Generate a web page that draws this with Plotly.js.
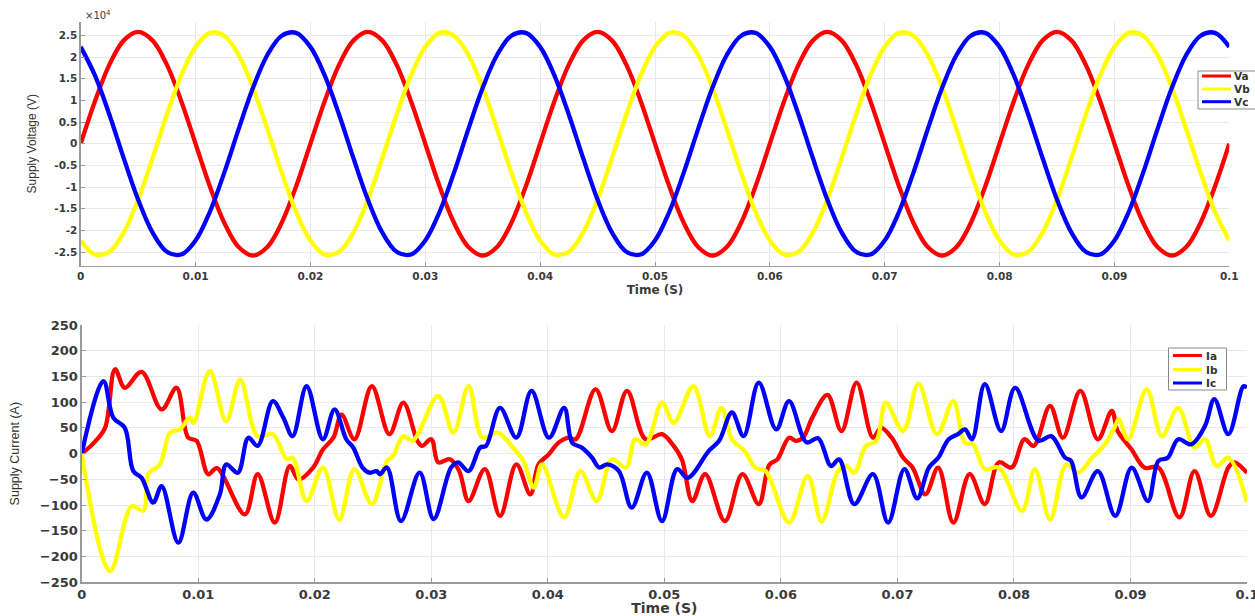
<!DOCTYPE html>
<html>
<head>
<meta charset="utf-8">
<script src="https://cdn.plot.ly/plotly-3.0.1.min.js"></script>
<style>html,body{margin:0;padding:0;background:#fff}#chart{width:1255px;height:616px}</style>
</head>
<body>
<div id="chart"></div>
<script>
// ---------- Supply voltage (top panel), sampled every 1.25 ms ----------
const tV = [0,0.00125,0.0025,0.00375,0.005,0.00625,0.0075,0.00875,
0.01,0.01125,0.0125,0.01375,0.015,0.01625,0.0175,0.01875,
0.02,0.02125,0.0225,0.02375,0.025,0.02625,0.0275,0.02875,
0.03,0.03125,0.0325,0.03375,0.035,0.03625,0.0375,0.03875,
0.04,0.04125,0.0425,0.04375,0.045,0.04625,0.0475,0.04875,
0.05,0.05125,0.0525,0.05375,0.055,0.05625,0.0575,0.05875,
0.06,0.06125,0.0625,0.06375,0.065,0.06625,0.0675,0.06875,
0.07,0.07125,0.0725,0.07375,0.075,0.07625,0.0775,0.07875,
0.08,0.08125,0.0825,0.08375,0.085,0.08625,0.0875,0.08875,
0.09,0.09125,0.0925,0.09375,0.095,0.09625,0.0975,0.09875,0.1];
const Va = [0,9870,18240,23840,25800,23840,18240,9870,0,-9870,-18240,-23840,-25800,-23840,-18240,-9870,
0,9870,18240,23840,25800,23840,18240,9870,0,-9870,-18240,-23840,-25800,-23840,-18240,-9870,
0,9870,18240,23840,25800,23840,18240,9870,0,-9870,-18240,-23840,-25800,-23840,-18240,-9870,
0,9870,18240,23840,25800,23840,18240,9870,0,-9870,-18240,-23840,-25800,-23840,-18240,-9870,
0,9870,18240,23840,25800,23840,18240,9870,0,-9870,-18240,-23840,-25800,-23840,-18240,-9870,0];
const Vb = [-22340,-25580,-24920,-20470,-12900,-3370,6680,15700,22340,25580,24920,20470,12900,3370,-6680,-15700,
-22340,-25580,-24920,-20470,-12900,-3370,6680,15700,22340,25580,24920,20470,12900,3370,-6680,-15700,
-22340,-25580,-24920,-20470,-12900,-3370,6680,15700,22340,25580,24920,20470,12900,3370,-6680,-15700,
-22340,-25580,-24920,-20470,-12900,-3370,6680,15700,22340,25580,24920,20470,12900,3370,-6680,-15700,
-22340,-25580,-24920,-20470,-12900,-3370,6680,15700,22340,25580,24920,20470,12900,3370,-6680,-15700,-22340];
const Vc = [22340,15700,6680,-3370,-12900,-20470,-24920,-25580,-22340,-15700,-6680,3370,12900,20470,24920,25580,
22340,15700,6680,-3370,-12900,-20470,-24920,-25580,-22340,-15700,-6680,3370,12900,20470,24920,25580,
22340,15700,6680,-3370,-12900,-20470,-24920,-25580,-22340,-15700,-6680,3370,12900,20470,24920,25580,
22340,15700,6680,-3370,-12900,-20470,-24920,-25580,-22340,-15700,-6680,3370,12900,20470,24920,25580,
22340,15700,6680,-3370,-12900,-20470,-24920,-25580,-22340,-15700,-6680,3370,12900,20470,24920,25580,22340];

// ---------- Supply current (bottom panel), read at turning points ----------
const tIa = [0,0.001,0.002,0.00286,0.0037,0.00514,0.00686,0.00814,0.00914,0.00986,0.01086,0.0116,0.014,0.0151,0.01657,0.01786,0.0186,0.01986,0.0207,0.0216,0.0223,0.0234,0.0249,0.0264,0.0276,0.0288,0.0292,0.03,0.0306,0.0316,0.0324,0.0332,0.0346,0.0359,0.0373,0.0385,0.0392,0.0401,0.0409,0.0418,0.0424,0.0441,0.0455,0.0468,0.0484,0.0498,0.0507,0.0515,0.0524,0.0535,0.0552,0.0567,0.0581,0.059,0.0597,0.0607,0.0613,0.0619,0.0627,0.064,0.0652,0.0665,0.0679,0.0686,0.0695,0.0705,0.0713,0.0724,0.0735,0.0748,0.0762,0.0775,0.0787,0.0798,0.0809,0.0817,0.0831,0.0842,0.0857,0.0872,0.0884,0.0889,0.0901,0.0912,0.0924,0.0942,0.0955,0.0969,0.0984,0.0989,0.1];
const Ia = [0,20,50,164,128,159,86,128,31,25,-40,-28,-118,-40,-134,-24,-50,-27,8,31,76,28,131,38,99,25,15,28,-17,-11,-34,-92,-30,-121,-21,-79,-21,-1,21,31,28,125,44,122,28,38,18,-11,-92,-40,-131,-40,-98,-22,-11,31,25,31,70,114,44,138,31,50,31,-8,-27,-79,-27,-134,-40,-98,-17,-27,28,15,93,31,122,28,83,44,8,-27,-27,-124,-34,-121,-27,-17,-37];
const tIb = [0,0.00243,0.0043,0.0053,0.0057,0.0067,0.0076,0.0084,0.0093,0.0096,0.011,0.0124,0.0136,0.0151,0.0164,0.0176,0.0181,0.0193,0.0207,0.0221,0.0234,0.0249,0.0262,0.0267,0.0276,0.0284,0.0306,0.0319,0.0332,0.0344,0.0357,0.037,0.0379,0.0388,0.0395,0.0414,0.0428,0.0442,0.0455,0.0467,0.0475,0.0484,0.0498,0.0508,0.0525,0.0539,0.0549,0.0558,0.0569,0.0578,0.0587,0.0607,0.0623,0.0635,0.0649,0.0656,0.0663,0.0673,0.0682,0.069,0.0705,0.0718,0.0734,0.0748,0.0758,0.0765,0.0775,0.0787,0.0807,0.0818,0.0831,0.0845,0.0855,0.0867,0.0878,0.0887,0.089,0.0898,0.0914,0.0927,0.0941,0.0955,0.0964,0.0974,0.0984,0.1];
const Ib = [0,-228,-102,-111,-40,-21,41,47,70,60,161,63,144,34,38,-11,-8,-92,-27,-128,-30,-98,-14,-5,34,25,112,41,131,31,41,12,-14,-66,-21,-124,-34,-92,-11,-27,28,18,99,60,131,34,89,28,5,-27,-34,-134,-43,-132,-34,-24,-37,15,25,99,44,136,38,102,21,18,-30,-27,-111,-30,-128,-21,-37,-8,18,54,67,28,125,34,89,12,28,-24,-8,-95];
const tIc = [0,0.00186,0.00271,0.0037,0.00443,0.00514,0.00614,0.00686,0.00829,0.00957,0.0107,0.01186,0.0124,0.0134,0.0143,0.0151,0.0164,0.0173,0.0181,0.0193,0.0207,0.0217,0.0227,0.0233,0.0241,0.0247,0.0253,0.0256,0.0262,0.0274,0.029,0.0302,0.0317,0.0323,0.0332,0.0342,0.0347,0.0359,0.0373,0.0386,0.0401,0.0414,0.0421,0.0429,0.0438,0.0444,0.0451,0.0461,0.0472,0.0485,0.0498,0.0511,0.052,0.0538,0.0547,0.0558,0.0568,0.0581,0.0596,0.0607,0.0622,0.0632,0.0643,0.065,0.0663,0.0679,0.0692,0.0706,0.0717,0.0727,0.0735,0.0744,0.0752,0.0758,0.0764,0.0775,0.0789,0.0801,0.0821,0.0832,0.0844,0.0849,0.0858,0.0872,0.0887,0.0901,0.0915,0.0924,0.0932,0.0941,0.0952,0.0964,0.0972,0.0984,0.0997,0.1];
const Ic = [0,141,70,50,-34,-47,-95,-63,-173,-76,-128,-79,-21,-37,31,15,102,70,34,131,28,86,28,12,-27,-37,-34,-40,-27,-131,-37,-127,-27,-17,-34,12,15,89,31,122,31,89,21,12,-8,-27,-21,-34,-105,-37,-131,-30,-47,5,25,80,34,138,47,102,22,30,-24,-11,-98,-40,-134,-30,-87,-27,-8,28,38,47,28,135,44,128,25,34,-8,-14,-85,-34,-121,-27,-92,-14,-8,28,18,54,106,38,131,128];

// ---------- tick labels ----------
const xTickVals = [0,0.01,0.02,0.03,0.04,0.05,0.06,0.07,0.08,0.09,0.1];
const xTickText = ["0","0.01","0.02","0.03","0.04","0.05","0.06","0.07","0.08","0.09","0.1"];
const vTickVals = [-25000,-20000,-15000,-10000,-5000,0,5000,10000,15000,20000,25000];
const vTickText = ["-2.5","-2","-1.5","-1","-0.5","0","0.5","1","1.5","2","2.5"];
const iTickVals = [-250,-200,-150,-100,-50,0,50,100,150,200,250];
const vNames = ["Va","Vb","Vc"];
const iNames = ["Ia","Ib","Ic"];
const colors = ["#ff0000","#ffff00","#0000ff"];

const W = 1255, H = 616;
const X = p => p / W, Y = p => 1 - p / H;

const tickFontTop = {family: "DejaVu Sans", size: 10.5, color: "#3a3a3a", weight: "bold"};
const tickFontBot = {family: "DejaVu Sans", size: 13, color: "#3a3a3a", weight: "bold"};

const traces = [];
[Va, Vb, Vc].forEach((v, i) => traces.push({
  x: tV, y: v, xaxis: "x", yaxis: "y", type: "scatter", mode: "lines", name: vNames[i],
  line: {color: colors[i], width: 4.3, shape: "spline", smoothing: 1}, showlegend: false, hoverinfo: "skip"
}));
[[tIa, Ia], [tIb, Ib], [tIc, Ic]].forEach((d, i) => traces.push({
  x: d[0], y: d[1], xaxis: "x2", yaxis: "y2", type: "scatter", mode: "lines", name: iNames[i],
  line: {color: colors[i], width: 4.3, shape: "spline", smoothing: 1}, showlegend: false, hoverinfo: "skip"
}));

const commonX = {
  range: [0, 0.1], tickvals: xTickVals, ticktext: xTickText, ticklabeloverflow: "allow",
  showgrid: true, gridcolor: "#e9e9e9", gridwidth: 1, zeroline: false,
  showline: true, linecolor: "#9a9a9a", linewidth: 1.3, ticks: "inside", ticklen: 4, tickcolor: "#9a9a9a",
  mirror: false
};

const layout = {
  width: W, height: H, paper_bgcolor: "#fff", plot_bgcolor: "#fff",
  margin: {l: 0, r: 0, t: 0, b: 0},
  showlegend: false,
  xaxis: Object.assign({}, commonX, {
    domain: [X(80.7), X(1229.3)], anchor: "y", tickfont: tickFontTop,
    title: {text: "Time (S)", font: {family: "DejaVu Sans", size: 12, color: "#3a3a3a", weight: "bold"}, standoff: 5}
  }),
  yaxis: {
    domain: [Y(265.7), Y(21.7)], anchor: "x", range: [-28150, 28150],
    tickvals: vTickVals, ticktext: vTickText, tickfont: tickFontTop,
    showgrid: true, gridcolor: "#e9e9e9", zeroline: false,
    showline: true, linecolor: "#9a9a9a", linewidth: 1.3, ticks: "inside", ticklen: 4, tickcolor: "#9a9a9a",
    title: {text: "Supply Voltage (V)", font: {family: "Liberation Sans Narrow, Liberation Sans, Arial, sans-serif", size: 12, color: "#333"}, standoff: 15}
  },
  xaxis2: Object.assign({}, commonX, {
    domain: [X(81.7), X(1247)], anchor: "y2", tickfont: tickFontBot,
    title: {text: "Time (S)", font: {family: "DejaVu Sans", size: 14, color: "#3a3a3a", weight: "bold"}, standoff: 0}
  }),
  yaxis2: {
    domain: [Y(582.3), Y(325)], anchor: "x2", range: [-250, 250],
    tickvals: iTickVals, tickfont: tickFontBot,
    showgrid: true, gridcolor: "#e9e9e9", zeroline: false,
    showline: true, linecolor: "#9a9a9a", linewidth: 1.3, ticks: "inside", ticklen: 4, tickcolor: "#9a9a9a",
    title: {text: "Supply Current (A)", font: {family: "Liberation Sans, Arial, sans-serif", size: 12.5, color: "#333"}, standoff: 17}
  },
  shapes: [],
  annotations: [
    {xref: "paper", yref: "paper", x: X(83), y: Y(15), xanchor: "left", yanchor: "middle", showarrow: false,
     text: "×10<sup>4</sup>", font: {family: "DejaVu Sans", size: 10, color: "#3a3a3a"}}
  ]
};

// custom compact legends (boxes, line samples and real-text labels)
function addLegend(x0, x1, y0, y1, lineX0, lineX1, textX, ys, names) {
  layout.shapes.push({type: "rect", xref: "paper", yref: "paper", x0: X(x0), x1: X(x1), y0: Y(y1), y1: Y(y0),
    line: {color: "#8a8a8a", width: 1}, fillcolor: "#ffffff", layer: "above"});
  ys.forEach((yy, i) => {
    layout.shapes.push({type: "line", xref: "paper", yref: "paper", x0: X(lineX0), x1: X(lineX1), y0: Y(yy), y1: Y(yy),
      line: {color: colors[i], width: 3}, layer: "above"});
    layout.annotations.push({xref: "paper", yref: "paper", x: X(textX), y: Y(yy), xanchor: "left", yanchor: "middle",
      showarrow: false, text: names[i], font: {family: "DejaVu Sans", size: 10.5, color: "#333", weight: "bold"}});
  });
}
addLegend(1198, 1262, 71, 109, 1202, 1231, 1232, [76, 89, 101.7], vNames);
addLegend(1168.5, 1226.5, 348, 390, 1173, 1202, 1203.5, [355.5, 369.5, 383], iNames);

Plotly.newPlot("chart", traces, layout, {staticPlot: true, displayModeBar: false});
</script>
</body>
</html>
